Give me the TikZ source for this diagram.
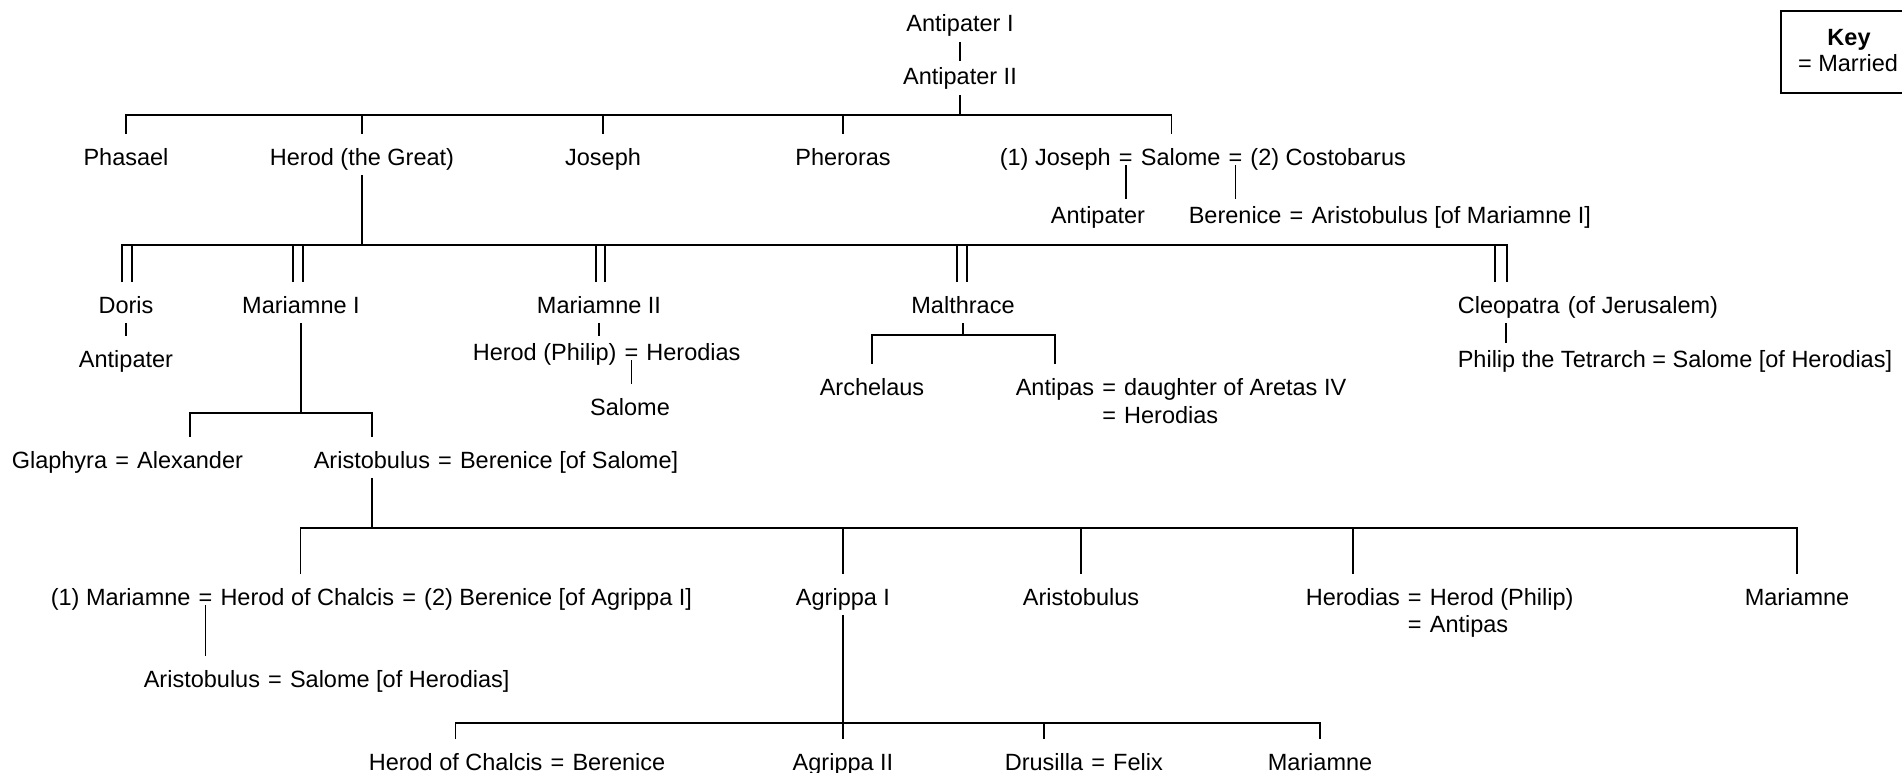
\documentclass[tikz,border=0pt]{standalone}
\usepackage{fontspec}
\setmainfont{Liberation Sans}
\newcommand\treefont{\fontsize{23.5pt}{28pt}\selectfont}
\newcommand\wed{\null\ =\ \null}
\tikzset{
  nm/.style={inner xsep=0pt, inner ysep=4pt, text height=26pt, text depth=5pt,
             font=\treefont, anchor=base},
  nw/.style={nm, anchor=base west},
  reach/.style={shorten >=-7pt}
}
\begin{document}
\begin{tikzpicture}[x=1pt, y=-1pt, line width=1.6pt]
\fill[white] (0,0) rectangle (1902,773);
\useasboundingbox (0,0) rectangle (1902,773);

% Antipater I and II
\node[nm] (antI) at (960,32) {Antipater I};
\node[nm] (antII) at (960,85) {Antipater II};
\draw[reach] (antI.south) -- (antII.north);
\coordinate (topbar) at (960,115);
\draw (antII.south) -- (topbar);

% children of Antipater II
\node[nm] (phasael) at (126,165) {Phasael};
\node[nm] (herod) at (362,165) {Herod (the Great)};
\node[nm] (joseph) at (603,165) {Joseph};
\node[nm] (pheroras) at (843,165) {Pheroras};
\node[nw] (josA) at (999,165) {(1) Joseph};
\node[nw] (eqA) at (josA.base east) {\wed};
\node[nw] (salA) at (eqA.base east) {Salome};
\node[nw] (eqB) at (salA.base east) {\wed};
\node[nw] (costob) at (eqB.base east) {(2) Costobarus};
\draw (phasael.north) |- (topbar) -| ([xshift=-9pt]salA.north);
\foreach \c in {herod, joseph, pheroras}
  \draw (\c.north) -- (\c.north |- topbar);

% children of Salome
\node[nm] (antS) at (1098,223) {Antipater};
\node[nw] (berA) at (1188,223) {Berenice};
\node[nw] (eqC) at (berA.base east) {\wed};
\node[nw] (arisA) at (eqC.base east) {Aristobulus [of Mariamne I]};
\draw[reach] (eqA.base) -- (eqA.base |- antS.north);
\draw[reach] (eqB.base) -- (eqB.base |- berA.north);

% wives of Herod
\node[nm] (doris) at (126,313) {Doris};
\node[nm] (marI) at (301,313) {Mariamne I};
\node[nm] (marII) at (599,313) {Mariamne II};
\node[nm] (malth) at (963,313) {Malthrace};
\node[nw] (cleo) at (1457,313) {Cleopatra};
\node[nw] (cleoJ) at (cleo.base east) {\null\ (of Jerusalem)};
\coordinate (wivesbar) at (362,245);
\draw (herod.south) -- (herod.south |- wivesbar);
\draw ([xshift=-4pt]doris.north) |- (wivesbar) -| ([xshift=-2pt]cleo.north);
\foreach \w/\a/\b in {doris/-4pt/6pt, marI/-8pt/2pt, marII/-3pt/6pt,
                      malth/-6pt/4pt, cleo/-14pt/-2pt} {
  \draw ([xshift=\a]\w.north) -- ([xshift=\a]\w.north |- wivesbar);
  \draw ([xshift=\b]\w.north) -- ([xshift=\b]\w.north |- wivesbar);
}

% Doris
\node[nm] (antD) at (126,367) {Antipater};
\draw (doris.south) -- (antD.north);

% Mariamne II
\node[nw] (hph) at (472,360) {Herod (Philip)};
\node[nw] (eqD) at (hph.base east) {\wed};
\node[nw] (hdias) at (eqD.base east) {Herodias};
\draw[reach] (marII.south) -- (marII.south |- hph.north);
\node[nm] (salB) at (630,415) {Salome};
\draw (eqD.base) -- (eqD.base |- salB.north);

% Malthrace
\node[nm] (arch) at (872,395) {Archelaus};
\node[nw] (antip) at (1015,395) {Antipas};
\node[nw] (eqE) at (antip.base east) {\wed};
\node[nw] (daug) at (eqE.base east) {daughter of Aretas IV};
\node[nm] (eqE2) at ([yshift=-28pt]eqE.base) {\wed};
\node[nw] (hdiasB) at (eqE2.base east) {Herodias};
\coordinate (malbar) at (963,335);
\draw (malth.south) -- (malbar);
\draw (arch.north) |- (malbar) -| (antip.north);

% Cleopatra
\node[nw] (philip) at (1457,367) {Philip the Tetrarch = Salome [of Herodias]};
\draw[reach] ([xshift=-3pt]cleo.south) -- ([xshift=-3pt]cleo.south |- philip.north);

% Mariamne I
\node[nw] (glaph) at (11,468) {Glaphyra};
\node[nw] (eqF) at (glaph.base east) {\wed};
\node[nw] (alex) at (eqF.base east) {Alexander};
\node[nw] (arisB) at (313,468) {Aristobulus};
\node[nw] (eqG) at (arisB.base east) {\wed};
\node[nw] (berB) at (eqG.base east) {Berenice [of Salome]};
\coordinate (marIbar) at (301,413);
\draw (marI.south) -- (marIbar);
\draw (alex.north) |- (marIbar) -| (arisB.north);

% children of Aristobulus and Berenice
\coordinate (arisbar) at (370,528);
\draw (arisB.south) -- (arisB.south |- arisbar);
\node[nw] (mar1) at (50,605) {(1) Mariamne};
\node[nw] (eqH) at (mar1.base east) {\wed};
\node[nw] (hoc) at (eqH.base east) {Herod of Chalcis};
\node[nw] (eqI) at (hoc.base east) {\wed};
\node[nw] (ber2) at (eqI.base east) {(2) Berenice [of Agrippa I]};
\node[nm] (agr1) at (843,605) {Agrippa I};
\node[nm] (aris3) at (1081,605) {Aristobulus};
\node[nw] (hdias2) at (1305,605) {Herodias};
\node[nw] (eqJ) at (hdias2.base east) {\wed};
\node[nw] (hph2) at (eqJ.base east) {Herod (Philip)};
\node[nm] (eqJ2) at ([yshift=-27pt]eqJ.base) {\wed};
\node[nw] (antip2) at (eqJ2.base east) {Antipas};
\node[nm] (mar3) at (1797,605) {Mariamne};
\draw ([xshift=-7pt]hoc.north) |- (arisbar) -| (mar3.north);
\foreach \c in {agr1, aris3, hdias2}
  \draw (\c.north) -- (\c.north |- arisbar);

% Herod of Chalcis and Mariamne
\node[nw] (aris4) at (143,687) {Aristobulus};
\node[nw] (eqK) at (aris4.base east) {\wed};
\node[nw] (sal4) at (eqK.base east) {Salome [of Herodias]};
\draw (eqH.base) -- (eqH.base |- aris4.north);

% children of Agrippa I
\coordinate (agrbar) at (843,723);
\node[nw] (hoc2) at (368,770) {Herod of Chalcis};
\node[nw] (eqL) at (hoc2.base east) {\wed};
\node[nw] (ber3) at (eqL.base east) {Berenice};
\node[nm] (agr2) at (843,770) {Agrippa II};
\node[nw] (drus) at (1004,770) {Drusilla};
\node[nw] (eqM) at (drus.base east) {\wed};
\node[nw] (felix) at (eqM.base east) {Felix};
\node[nm] (mar4) at (1320,770) {Mariamne};
\draw (agr1.south) -- (agr2.north);
\draw (hoc2.north) |- (agrbar) -| (mar4.north);
\draw (drus.north) -- (drus.north |- agrbar);

% key
\node[draw, inner sep=0pt, minimum width=124pt, minimum height=82pt,
      anchor=north west] (keybox) at (1780,10) {};
\node[nm, font=\treefont\bfseries] (keyT) at (1849,46) {Key};
\node[nm] (keyM) at (1848,72) {= Married};
\end{tikzpicture}
\end{document}
